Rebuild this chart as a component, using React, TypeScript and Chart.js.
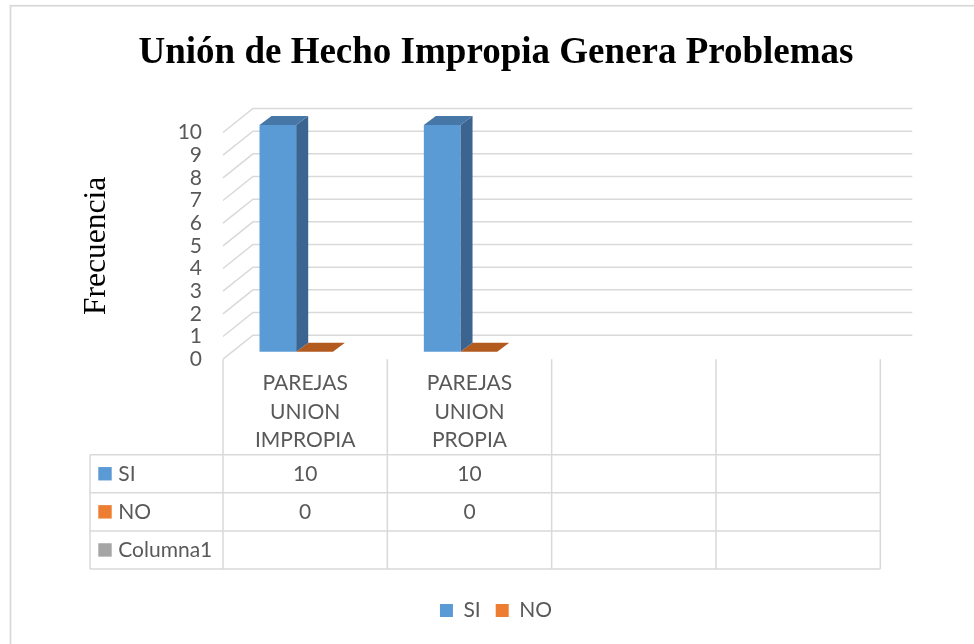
import React, { useEffect, useRef } from 'react';
import { Chart, registerables } from 'chart.js';

Chart.register(...registerables);

// ---- data ----
const TITLE = 'Unión de Hecho Impropia Genera Problemas';
const Y_TITLE = 'Frecuencia';
const categories: string[][] = [
  ['PAREJAS', 'UNION', 'IMPROPIA'],
  ['PAREJAS', 'UNION', 'PROPIA'],
  [''],
  [''],
];
const seriesNames = ['SI', 'NO', 'Columna1'];
const siValues: (number | null)[] = [10, 10, null, null];
const noValues: (number | null)[] = [0, 0, null, null];
const columna1Values: (number | null)[] = [null, null, null, null];
const Y_MIN = 0;
const Y_MAX = 10;
const Y_STEP = 1;

// ---- styles ----
const FRONT = ['#5B9BD5', '#ED7D31', '#A5A5A5'];
const SIDE = ['#3B6590', '#A8561F', '#7A7A7A'];
const TOP = ['#4677A6', '#B35A1F', '#8C8C8C'];
const GRID = '#D9D9D9';
const TEXT = '#595959';
const SANS = 'Lato, "Open Sans", sans-serif';
const SERIF = '"Liberation Serif", "Times New Roman", serif';
const FS = 21;
const WALL_DX = 30;
const WALL_DY = 24;
const BAR_SHIFT_X = 9.4;
const BAR_SHIFT_Y = 7.5;
const BAR_DX = 12;
const BAR_DY = 9;
const TABLE_LEFT = 90;

const excel3d = {
  id: 'excel3d',
  beforeDraw(chart: any) {
    const ctx = chart.ctx;
    ctx.save();
    ctx.fillStyle = '#ffffff';
    ctx.fillRect(0, 0, chart.width, chart.height);
    ctx.strokeStyle = GRID;
    ctx.lineWidth = 1.75;
    ctx.strokeRect(10.5, 5.75, chart.width + 40, chart.height + 40);
    ctx.restore();
  },
  beforeDatasetsDraw(chart: any) {
    const { ctx, chartArea, scales } = chart;
    const y = scales.y;
    ctx.save();
    ctx.strokeStyle = GRID;
    ctx.lineWidth = 1.5;
    y.ticks.forEach((t: any) => {
      const py = y.getPixelForValue(t.value);
      ctx.beginPath();
      ctx.moveTo(chartArea.left, py);
      ctx.lineTo(chartArea.left + WALL_DX, py - WALL_DY);
      ctx.lineTo(chartArea.right + WALL_DX + 2, py - WALL_DY);
      ctx.stroke();
    });
    ctx.restore();
    ctx.save();
    ctx.translate(BAR_SHIFT_X, -BAR_SHIFT_Y);
  },
  afterDatasetsDraw(chart: any) {
    const ctx = chart.ctx;
    for (let d = chart.data.datasets.length - 1; d >= 0; d--) {
      if (!chart.isDatasetVisible(d)) continue;
      const meta = chart.getDatasetMeta(d);
      const ds = chart.data.datasets[d];
      meta.data.forEach((el: any, i: number) => {
        const v = ds.data[i];
        if (v === null || v === undefined) return;
        const { x, y, base, width } = el.getProps(['x', 'y', 'base', 'width'], true);
        const l = x - width / 2;
        const r = x + width / 2;
        const top = Math.min(y, base);
        const bot = Math.max(y, base);
        ctx.fillStyle = SIDE[d];
        ctx.beginPath();
        ctx.moveTo(r, top);
        ctx.lineTo(r + BAR_DX, top - BAR_DY);
        ctx.lineTo(r + BAR_DX, bot - BAR_DY);
        ctx.lineTo(r, bot);
        ctx.closePath();
        ctx.fill();
        ctx.fillStyle = TOP[d];
        ctx.beginPath();
        ctx.moveTo(l, top);
        ctx.lineTo(r, top);
        ctx.lineTo(r + BAR_DX, top - BAR_DY);
        ctx.lineTo(l + BAR_DX, top - BAR_DY);
        ctx.closePath();
        ctx.fill();
      });
    }
    ctx.restore();
  },
  afterDraw(chart: any) {
    const { ctx, chartArea, scales } = chart;
    const xs = scales.x;
    const n = chart.data.labels.length;
    const catW = (xs.right - xs.left) / n;
    const bounds: number[] = [];
    for (let i = 0; i < n; i++) bounds.push(xs.getPixelForValue(i) - catW / 2);
    bounds.push(xs.getPixelForValue(n - 1) + catW / 2);
    const top = chartArea.bottom;
    const headerBottom = top + 95.5;
    const rowH = 38.1;
    const nRows = chart.data.datasets.length;
    const tableBottom = headerBottom + rowH * nRows;

    ctx.save();
    ctx.strokeStyle = GRID;
    ctx.lineWidth = 1.5;
    bounds.forEach((bx) => {
      ctx.beginPath();
      ctx.moveTo(bx, top);
      ctx.lineTo(bx, tableBottom);
      ctx.stroke();
    });
    ctx.beginPath();
    ctx.moveTo(TABLE_LEFT, headerBottom);
    ctx.lineTo(TABLE_LEFT, tableBottom);
    ctx.stroke();
    for (let r = 0; r <= nRows; r++) {
      const ry = headerBottom + r * rowH;
      ctx.beginPath();
      ctx.moveTo(TABLE_LEFT, ry);
      ctx.lineTo(bounds[n], ry);
      ctx.stroke();
    }

    ctx.fillStyle = TEXT;
    ctx.font = `${FS}px ${SANS}`;
    ctx.textBaseline = 'middle';
    ctx.textAlign = 'center';
    chart.data.labels.forEach((lab: any, i: number) => {
      const lines = Array.isArray(lab) ? lab : [lab];
      const cx = xs.getPixelForValue(i);
      lines.forEach((ln: string, k: number) => {
        ctx.fillText(ln, cx, top + 24.5 + k * 28.5);
      });
    });
    chart.data.datasets.forEach((ds: any, r: number) => {
      const cy = headerBottom + r * rowH + rowH / 2;
      ctx.fillStyle = ds.backgroundColor;
      ctx.fillRect(TABLE_LEFT + 8.3, cy - 6.7, 13.4, 13.4);
      ctx.fillStyle = TEXT;
      ctx.textAlign = 'left';
      ctx.fillText(ds.label, TABLE_LEFT + 28.3, cy);
      ctx.textAlign = 'center';
      ds.data.forEach((v: number | null, i: number) => {
        if (v === null || v === undefined) return;
        ctx.fillText(String(v), xs.getPixelForValue(i), cy);
      });
    });
    ctx.restore();
  },
};

export default function App() {
  const ref = useRef<HTMLCanvasElement | null>(null);
  useEffect(() => {
    if (!ref.current) return;
    const seriesData = [siValues, noValues, columna1Values];
    const chart = new Chart(ref.current, {
      type: 'bar',
      data: {
        labels: categories,
        datasets: seriesNames.map((name, i) => ({
          label: name,
          data: seriesData[i],
          backgroundColor: FRONT[i],
          borderWidth: 0,
          clip: false,
          categoryPercentage: 0.67,
          barPercentage: 1,
        })),
      },
      options: {
        responsive: false,
        devicePixelRatio: 1,
        animation: false,
        layout: { padding: { left: 28, right: 10, top: 0, bottom: 13 } },
        plugins: {
          tooltip: { enabled: false },
          title: {
            display: true,
            text: TITLE,
            color: '#000000',
            font: { family: SERIF, size: 37, weight: 'bold' },
            padding: { top: 31, bottom: 57.1 },
          },
          legend: {
            position: 'bottom',
            labels: {
              boxWidth: 13,
              boxHeight: 13,
              padding: 15,
              color: TEXT,
              font: { family: SANS, size: FS },
              filter: (item: any) => item.text !== 'Columna1',
            },
          },
        },
        scales: {
          x: {
            display: true,
            grid: { display: false, drawTicks: false },
            ticks: { display: false },
            border: { display: false },
            afterFit: (s: any) => { s.height = 225.8; },
          },
          y: {
            position: 'left',
            min: Y_MIN,
            max: Y_MAX,
            ticks: {
              stepSize: Y_STEP,
              autoSkip: false,
              padding: 21,
              color: TEXT,
              font: { family: SANS, size: FS },
            },
            grid: { display: false, drawTicks: false },
            border: { display: false },
            title: {
              display: true,
              text: Y_TITLE,
              color: '#000000',
              font: { family: SERIF, size: 31.5 },
              padding: { top: 49.5, bottom: 0 },
            },
            afterFit: (s: any) => { s.width = 195; },
          },
          yRight: {
            type: 'linear',
            position: 'right',
            display: true,
            grid: { display: false, drawTicks: false },
            ticks: { display: false },
            border: { display: false },
            afterFit: (s: any) => { s.width = 83.7; },
          },
        },
      } as any,
      plugins: [excel3d],
    });
    return () => chart.destroy();
  }, []);
  return (
    <div style={{ position: 'fixed', left: 0, top: 0, width: 974, height: 644, background: '#fff' }}>
      <canvas ref={ref} width={974} height={644} style={{ display: 'block', width: 974, height: 644 }} />
    </div>
  );
}
